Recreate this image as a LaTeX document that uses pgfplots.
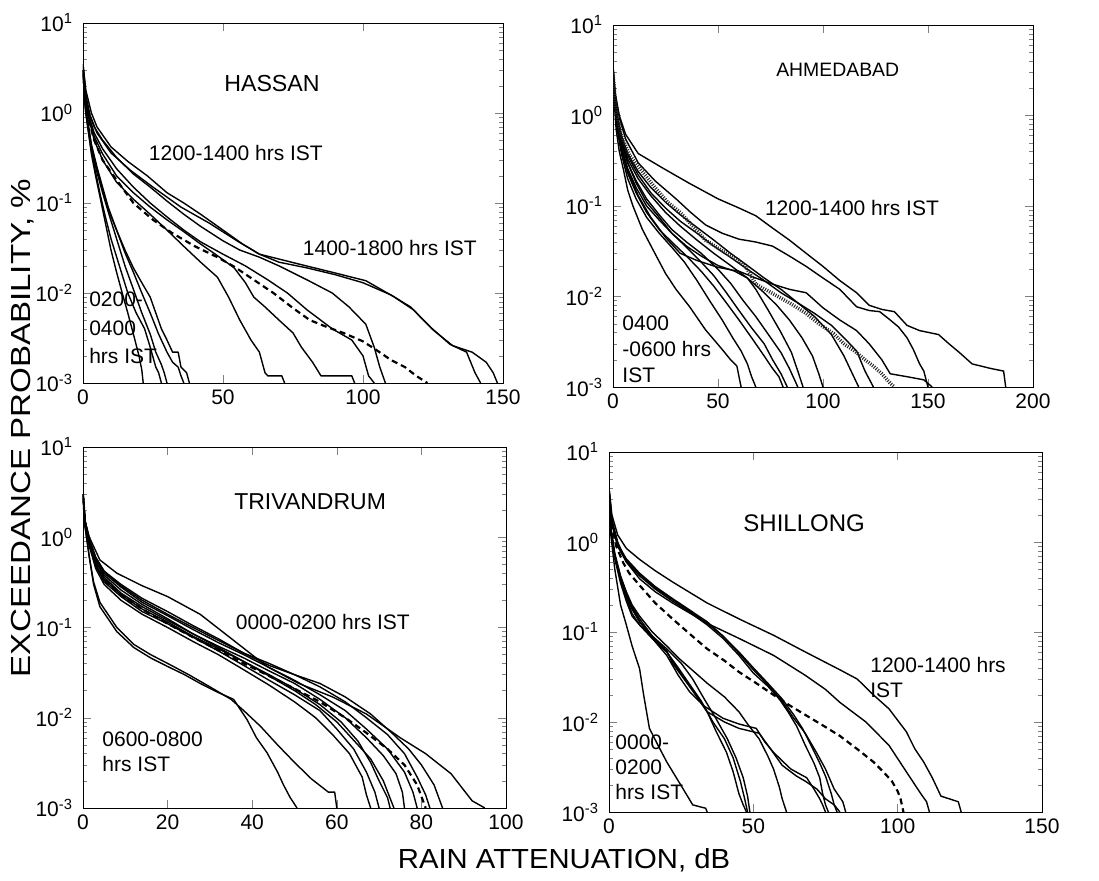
\documentclass[border=0pt]{standalone}
\usepackage{fontspec}
\setmainfont{Liberation Sans}
\usepackage{graphicx}
\usepackage{pgfplots}
\pgfplotsset{compat=1.18}

\tikzset{
  crv/.style={black, line width=0.7pt, line join=round},
  dshd/.style={black, line width=1.1pt, dash pattern=on 3pt off 2pt},
  dotd/.style={black!85, line width=1.8pt, dash pattern=on 0.5pt off 0.7pt},
  ann/.style={font=\fontsize{10.5}{12.5}\selectfont, inner sep=0pt},
}

\begin{document}
\begin{tikzpicture}
\useasboundingbox (0,0) rectangle (549.5pt,-440.5pt);

% ---------------- HASSAN
\begin{semilogyaxis}[scale only axis, ymin=0.001, ymax=10,
  ytick={0.001,0.01,0.1,1,10},
  yticklabels={10\textsuperscript{-3},10\textsuperscript{-2},10\textsuperscript{-1},10\textsuperscript{0},10\textsuperscript{1}},
  minor ytick={0.002,0.003,0.004,0.005,0.006,0.007,0.008,0.009,0.02,0.03,0.04,0.05,0.06,0.07,0.08,0.09,0.2,0.3,0.4,0.5,0.6,0.7,0.8,0.9,2,3,4,5,6,7,8,9},
  tick align=inside, major tick length=4pt, minor tick length=2pt,
  xticklabel style={font=\fontsize{10.5}{12}\selectfont, /pgf/number format/assume math mode=true},
  yticklabel style={font=\fontsize{10.5}{12}\selectfont, xshift=-1.5pt},
  at={(41.5pt,-11.5pt)}, anchor=north west,
  width=210pt, height=180pt, xmin=0, xmax=150, xtick={0,50,100,150}]
\addplot[crv] coordinates {(0,3) (0.5,1.5) (1,1) (2,0.6) (3,0.35) (4.5,0.2) (6,0.12) (8,0.06) (10,0.03) (12,0.017) (14,0.01) (16,0.006) (18,0.0035) (20,0.002) (21,0.0014) (21.5,0.001)};
\addplot[crv] coordinates {(0,3) (0.5,1.5) (1,1) (2,0.6) (3,0.38) (4.5,0.22) (6,0.13) (8,0.07) (10,0.04) (13,0.02) (16,0.01) (19,0.006) (22,0.004) (24,0.0025) (26,0.0015) (27,0.0013) (28,0.001)};
\addplot[crv] coordinates {(0,3) (1,1.1) (2,0.65) (3,0.4) (5,0.22) (7,0.13) (9,0.08) (12,0.04) (15,0.02) (18,0.011) (21,0.006) (24,0.0035) (26,0.0022) (28,0.0016) (29,0.0013) (30,0.001)};
\addplot[crv] coordinates {(0,3) (1,1.1) (2,0.7) (3,0.45) (5,0.25) (7,0.15) (9,0.09) (12,0.05) (15,0.028) (18,0.017) (21,0.01) (24,0.006) (27,0.0035) (30,0.0022) (32,0.0017) (34,0.0015) (35,0.0012) (36,0.001)};
\addplot[crv] coordinates {(0,3) (1,1.1) (2,0.7) (3,0.42) (5,0.24) (7,0.14) (9,0.085) (12,0.05) (15,0.03) (18,0.019) (21,0.013) (24,0.009) (26,0.006) (28,0.004) (30,0.003) (32,0.0022) (34,0.0022) (35,0.0015) (37,0.0013) (38,0.001)};
\addplot[crv] coordinates {(0,3) (1,1.3) (2,0.9) (4,0.5) (7,0.3) (12,0.17) (18,0.11) (23,0.08) (30,0.05) (36,0.033) (42,0.022) (48,0.015) (52,0.009) (56,0.005) (60,0.003) (63,0.0022) (65,0.0013) (66,0.0012) (71,0.0012) (72,0.001)};
\addplot[crv] coordinates {(0,3) (1,1.3) (2,0.9) (4,0.55) (7,0.35) (12,0.2) (18,0.13) (24,0.09) (30,0.065) (36,0.048) (42,0.035) (48,0.026) (54,0.019) (58,0.013) (61,0.009) (65,0.007) (70,0.005) (75,0.0036) (78,0.0025) (82,0.0017) (85,0.0012) (96,0.0012) (97,0.001)};
\addplot[crv] coordinates {(0,3) (1,1.3) (2,0.95) (4,0.6) (7,0.4) (12,0.24) (18,0.15) (24,0.1) (30,0.07) (36,0.05) (42,0.037) (50,0.027) (58,0.02) (66,0.014) (73,0.01) (80,0.0065) (89,0.004) (96,0.003) (100,0.002) (102,0.0012) (104,0.001)};
\addplot[crv] coordinates {(0,3) (1,1.4) (2,1) (4,0.7) (7,0.5) (12,0.32) (18,0.21) (24,0.15) (30,0.105) (36,0.075) (42,0.055) (50,0.038) (56,0.03) (63,0.025) (70,0.02) (80,0.014) (89,0.01) (95,0.007) (101,0.0045) (104,0.0025) (106,0.0015) (108,0.001)};
\addplot[crv] coordinates {(0,3.5) (1,1.8) (3,1) (5,0.7) (10,0.42) (16,0.29) (23,0.2) (30,0.13) (36,0.1) (42,0.075) (50,0.05) (57,0.035) (63,0.027) (77,0.021) (89,0.017) (101,0.0137) (111,0.0091) (118,0.0065) (125,0.0039) (132,0.0026) (139,0.0022) (144,0.0017) (146.5,0.0013) (148,0.001)};
\addplot[crv] coordinates {(0,3.5) (1,1.6) (2.5,0.95) (5,0.6) (10,0.36) (17,0.23) (25,0.15) (35,0.09) (45,0.06) (55,0.038) (63,0.027) (70,0.022) (80,0.019) (90,0.016) (100,0.013) (110,0.0095) (117,0.007) (124,0.0042) (131,0.0027) (137,0.0022) (140,0.0013) (142,0.001)};
\addplot[dshd] coordinates {(0,3) (1,1.3) (2,0.85) (4,0.5) (7,0.3) (12,0.18) (18,0.1) (25,0.065) (32,0.046) (40,0.033) (48,0.025) (54,0.0196) (61,0.014) (68,0.01) (75,0.0068) (81,0.005) (87,0.0042) (93,0.0036) (100,0.0029) (105,0.0023) (110,0.0018) (115,0.0015) (119,0.0012) (123,0.001)};
\node[ann, font=\fontsize{11.6}{14}\selectfont] at (axis cs:67.5,2.15) {HASSAN};
\node[ann] at (axis cs:54.6,0.36) {1200-1400 hrs IST};
\node[ann] at (axis cs:109.6,0.0316) {1400-1800 hrs IST};
\node[ann, anchor=west, align=left, font=\fontsize{10.5}{14.2}\selectfont] at (axis cs:2.1,0.00408) {0200-\\0400\\hrs IST};
\end{semilogyaxis}

% ---------------- AHMEDABAD
\begin{semilogyaxis}[scale only axis, ymin=0.001, ymax=10,
  ytick={0.001,0.01,0.1,1,10},
  yticklabels={10\textsuperscript{-3},10\textsuperscript{-2},10\textsuperscript{-1},10\textsuperscript{0},10\textsuperscript{1}},
  minor ytick={0.002,0.003,0.004,0.005,0.006,0.007,0.008,0.009,0.02,0.03,0.04,0.05,0.06,0.07,0.08,0.09,0.2,0.3,0.4,0.5,0.6,0.7,0.8,0.9,2,3,4,5,6,7,8,9},
  tick align=inside, major tick length=4pt, minor tick length=2pt,
  xticklabel style={font=\fontsize{10.5}{12}\selectfont, /pgf/number format/assume math mode=true},
  yticklabel style={font=\fontsize{10.5}{12}\selectfont, xshift=-1.5pt},
  at={(306.5pt,-12.5pt)}, anchor=north west,
  width=210pt, height=181pt, xmin=0, xmax=200, xtick={0,50,100,150,200}]
\addplot[crv] coordinates {(0,3.5) (1,1.8) (3,1) (6,0.62) (12,0.38) (24,0.26) (36,0.18) (50,0.12) (60,0.095) (68,0.078) (76,0.057) (84,0.042) (92,0.03) (100,0.0215) (108,0.015) (116,0.011) (122,0.008) (128,0.0072) (134,0.0068) (140,0.0048) (146,0.0042) (155,0.0038) (160,0.003) (165,0.0024) (171,0.0018) (180,0.0016) (186,0.0015) (187,0.001)};
\addplot[crv] coordinates {(0,3.5) (1,1.7) (3,0.95) (6,0.55) (12,0.3) (20,0.19) (30,0.12) (37,0.085) (44,0.062) (52,0.05) (60,0.043) (68,0.04) (76,0.036) (84,0.028) (92,0.0215) (100,0.016) (108,0.012) (116,0.0077) (122,0.007) (127,0.0068) (132,0.0055) (136,0.0046) (140,0.0035) (143,0.0026) (146,0.0018) (148,0.0015) (150,0.001)};
\addplot[crv] coordinates {(0,3) (1,1.3) (2,0.8) (4,0.45) (7,0.25) (12,0.13) (18,0.075) (25,0.045) (32,0.03) (40,0.025) (50,0.021) (60,0.019) (68,0.016) (76,0.0137) (84,0.012) (92,0.011) (100,0.0075) (108,0.0055) (116,0.0042) (122,0.003) (128,0.002) (132,0.0014) (140,0.0013) (148,0.0012) (152,0.001)};
\addplot[crv] coordinates {(0,3) (0.8,1.2) (1.5,0.7) (3,0.4) (5,0.25) (7,0.15) (9.5,0.1) (14,0.055) (19,0.033) (25,0.018) (30,0.012) (36.5,0.0077) (44,0.0043) (52,0.0026) (56,0.002) (59,0.0017) (60,0.0013) (61,0.001)};
\addplot[crv] coordinates {(0,3) (1,1.2) (2,0.7) (4,0.38) (7,0.2) (11,0.12) (16,0.075) (22,0.05) (28,0.035) (34,0.024) (40,0.015) (46,0.009) (52,0.0055) (57,0.0035) (61,0.0025) (64,0.0018) (66,0.0013) (68,0.001)};
\addplot[crv] coordinates {(0,3) (1,1.2) (2,0.75) (4,0.42) (7,0.23) (11,0.14) (16,0.085) (22,0.055) (28,0.04) (35,0.028) (42,0.019) (48,0.013) (54,0.0085) (60,0.0055) (66,0.0035) (72,0.0022) (76,0.0016) (79,0.0013) (81,0.001)};
\addplot[crv] coordinates {(0,3) (1,1.3) (2,0.8) (4,0.45) (7,0.26) (11,0.16) (16,0.1) (22,0.07) (28,0.05) (35,0.035) (42,0.024) (48,0.017) (54,0.011) (60,0.007) (66,0.0045) (72,0.003) (76,0.002) (80,0.0014) (83,0.001)};
\addplot[crv] coordinates {(0,3) (1,1.3) (2,0.85) (4,0.5) (7,0.3) (11,0.19) (16,0.12) (22,0.08) (28,0.055) (35,0.04) (42,0.03) (50,0.02) (56,0.014) (62,0.009) (68,0.006) (74,0.0038) (80,0.0024) (84,0.0016) (88,0.001)};
\addplot[crv] coordinates {(0,3) (1,1.3) (2,0.85) (4,0.5) (7,0.3) (11,0.18) (16,0.11) (22,0.075) (28,0.05) (35,0.036) (42,0.028) (50,0.022) (58,0.019) (64,0.016) (68,0.012) (74,0.007) (80,0.004) (85,0.0024) (88,0.0015) (90.5,0.001)};
\addplot[crv] coordinates {(0,3) (1,1.4) (2,0.9) (4,0.55) (7,0.33) (12,0.2) (18,0.13) (25,0.085) (32,0.06) (40,0.042) (48,0.03) (56,0.022) (64,0.016) (72,0.011) (78,0.008) (84,0.0055) (90,0.0035) (95,0.0022) (98,0.0014) (100,0.001)};
\addplot[crv] coordinates {(0,3.2) (1,1.5) (2,1) (4,0.6) (7,0.38) (12,0.24) (18,0.16) (25,0.11) (32,0.08) (40,0.058) (48,0.042) (56,0.03) (64,0.022) (72,0.016) (80,0.012) (88,0.0085) (96,0.006) (104,0.0038) (110,0.0022) (114,0.0014) (117,0.001)};
\addplot[crv] coordinates {(0,3.2) (1,1.5) (2,1) (4,0.6) (7,0.36) (12,0.22) (18,0.14) (25,0.095) (32,0.068) (40,0.05) (48,0.036) (56,0.027) (64,0.02) (72,0.015) (80,0.011) (88,0.0085) (96,0.0065) (104,0.0048) (110,0.0035) (116,0.0025) (120,0.0015) (124,0.001)};
\addplot[dotd] coordinates {(0,3) (1,1.5) (2,1) (4,0.6) (8,0.36) (14,0.24) (20,0.16) (26,0.11) (32,0.085) (38,0.06) (44,0.042) (52,0.032) (60,0.025) (64,0.02) (68,0.0137) (76,0.0108) (84,0.0085) (92,0.0065) (98,0.005) (105,0.0039) (110,0.003) (116,0.0024) (120,0.002) (124,0.0017) (128,0.0014) (132,0.0011) (134,0.001)};
\node[ann, font=\fontsize{9.7}{12}\selectfont] at (axis cs:107,3.16) {AHMEDABAD};
\node[ann] at (axis cs:113.8,0.095) {1200-1400 hrs IST};
\node[ann, anchor=west, align=left, font=\fontsize{10.5}{13}\selectfont] at (axis cs:4.3,0.00264) {0400\\-0600 hrs\\IST};
\end{semilogyaxis}

% ---------------- TRIVANDRUM
\begin{semilogyaxis}[scale only axis, ymin=0.001, ymax=10,
  ytick={0.001,0.01,0.1,1,10},
  yticklabels={10\textsuperscript{-3},10\textsuperscript{-2},10\textsuperscript{-1},10\textsuperscript{0},10\textsuperscript{1}},
  minor ytick={0.002,0.003,0.004,0.005,0.006,0.007,0.008,0.009,0.02,0.03,0.04,0.05,0.06,0.07,0.08,0.09,0.2,0.3,0.4,0.5,0.6,0.7,0.8,0.9,2,3,4,5,6,7,8,9},
  tick align=inside, major tick length=4pt, minor tick length=2pt,
  xticklabel style={font=\fontsize{10.5}{12}\selectfont, /pgf/number format/assume math mode=true},
  yticklabel style={font=\fontsize{10.5}{12}\selectfont, xshift=-1.5pt},
  at={(41.5pt,-223.5pt)}, anchor=north west,
  width=211.5pt, height=180.5pt, xmin=0, xmax=100, xtick={0,20,40,60,80,100}]
\addplot[crv] coordinates {(0,3) (0.5,1.5) (1.5,1) (4,0.56) (8,0.4) (14,0.29) (20,0.22) (27.7,0.14) (35.6,0.072) (43.5,0.037) (51,0.024) (59,0.017) (67,0.011) (75,0.006) (81,0.004) (87,0.0024) (92,0.0012) (95,0.001)};
\addplot[crv] coordinates {(0,3) (0.5,1.3) (1.5,0.6) (2.5,0.3) (4,0.17) (8,0.09) (12,0.06) (16,0.046) (20,0.037) (24,0.03) (27.7,0.024) (32,0.019) (35.6,0.016) (38.8,0.0095) (41,0.006) (43.5,0.0041) (46,0.0025) (47.4,0.0018) (49,0.0013) (50.6,0.001)};
\addplot[crv] coordinates {(0,3) (0.5,1.3) (1.5,0.6) (2.5,0.32) (4,0.19) (8,0.1) (12,0.065) (16,0.05) (20,0.04) (25,0.03) (30,0.022) (35,0.016) (38,0.012) (42,0.008) (46,0.005) (50,0.0032) (54,0.0021) (58,0.0015) (59.5,0.0015) (60,0.001)};
\addplot[crv] coordinates {(0,3) (0.5,1.4) (1.5,0.8) (3,0.45) (5,0.3) (9,0.2) (14,0.14) (20,0.1) (26,0.07) (32,0.05) (38,0.034) (44,0.023) (50,0.015) (55,0.01) (59,0.0065) (63,0.004) (66,0.0022) (67,0.0014) (68,0.001)};
\addplot[crv] coordinates {(0,3) (0.5,1.4) (1.5,0.8) (3,0.48) (5,0.32) (9,0.22) (14,0.15) (20,0.11) (26,0.078) (32,0.055) (38,0.038) (44,0.026) (50,0.018) (56,0.012) (60,0.0075) (64,0.0045) (67,0.0025) (69,0.0015) (70,0.001)};
\addplot[crv] coordinates {(0,3) (0.5,1.4) (1.5,0.85) (3,0.5) (5,0.34) (9,0.23) (14,0.16) (20,0.115) (26,0.08) (32,0.058) (38,0.042) (44,0.03) (50,0.021) (56,0.014) (61,0.009) (65,0.0055) (68,0.0032) (70,0.002) (72,0.0013) (72.6,0.001)};
\addplot[crv] coordinates {(0,3) (0.5,1.5) (1.5,0.9) (3,0.55) (5,0.38) (9,0.26) (14,0.18) (20,0.125) (26,0.085) (32,0.06) (38,0.042) (44,0.029) (50,0.02) (55,0.014) (60,0.009) (65,0.005) (68,0.0035) (71,0.002) (73.5,0.001)};
\addplot[crv] coordinates {(0,3) (0.5,1.5) (1.5,0.9) (3,0.55) (5,0.36) (9,0.24) (14,0.17) (20,0.12) (26,0.085) (32,0.062) (38,0.046) (44,0.033) (50,0.024) (56,0.016) (62,0.01) (67,0.006) (71,0.0038) (74,0.0024) (75.5,0.0015) (76,0.001)};
\addplot[crv] coordinates {(0,3) (0.5,1.5) (1.5,0.9) (3,0.58) (5,0.4) (9,0.28) (14,0.19) (20,0.135) (26,0.095) (32,0.068) (38,0.05) (44,0.036) (50,0.026) (56,0.018) (62,0.012) (67,0.0075) (72,0.0045) (76,0.0025) (78,0.0015) (79,0.001)};
\addplot[crv] coordinates {(0,3) (0.5,1.5) (1.5,0.95) (3,0.6) (5,0.42) (9,0.29) (14,0.2) (20,0.14) (26,0.1) (32,0.072) (38,0.052) (44,0.04) (50,0.03) (56,0.022) (62,0.015) (67,0.01) (72,0.0065) (76,0.004) (79,0.0022) (81,0.0014) (82,0.001)};
\addplot[crv] coordinates {(0,3) (0.5,1.5) (1.5,0.95) (3,0.6) (5,0.42) (9,0.3) (14,0.21) (20,0.15) (26,0.105) (32,0.075) (38,0.052) (44,0.038) (50,0.03) (56,0.024) (62,0.017) (68,0.011) (73,0.0068) (77,0.0045) (80,0.003) (83,0.0018) (85,0.001)};
\addplot[dshd] coordinates {(0,3) (0.5,1.4) (1.5,0.85) (3,0.5) (5,0.34) (9,0.23) (14,0.16) (20,0.11) (26,0.078) (32,0.056) (38,0.04) (44,0.029) (50,0.021) (56,0.015) (62,0.01) (67,0.0068) (72,0.0045) (76,0.003) (79,0.0018) (81,0.001)};
\node[ann, font=\fontsize{11.5}{14}\selectfont] at (axis cs:53.7,2.46) {TRIVANDRUM};
\node[ann] at (axis cs:56.7,0.115) {0000-0200 hrs IST};
\node[ann, anchor=west, align=left, font=\fontsize{10.5}{12.5}\selectfont] at (axis cs:4.5,0.00417) {0600-0800\\hrs IST};
\end{semilogyaxis}

% ---------------- SHILLONG
\begin{semilogyaxis}[scale only axis, ymin=0.001, ymax=10,
  ytick={0.001,0.01,0.1,1,10},
  yticklabels={10\textsuperscript{-3},10\textsuperscript{-2},10\textsuperscript{-1},10\textsuperscript{0},10\textsuperscript{1}},
  minor ytick={0.002,0.003,0.004,0.005,0.006,0.007,0.008,0.009,0.02,0.03,0.04,0.05,0.06,0.07,0.08,0.09,0.2,0.3,0.4,0.5,0.6,0.7,0.8,0.9,2,3,4,5,6,7,8,9},
  tick align=inside, major tick length=4pt, minor tick length=2pt,
  xticklabel style={font=\fontsize{10.5}{12}\selectfont, /pgf/number format/assume math mode=true},
  yticklabel style={font=\fontsize{10.5}{12}\selectfont, xshift=-1.5pt},
  at={(304.5pt,-226pt)}, anchor=north west,
  width=216.5pt, height=180pt, xmin=0, xmax=150, xtick={0,50,100,150}]
\addplot[crv] coordinates {(0,4) (1,2) (3,1.2) (6,0.85) (10.6,0.64) (16,0.48) (22,0.36) (34,0.21) (45,0.14) (57,0.092) (68,0.06) (80,0.038) (86,0.03) (91.6,0.02) (97,0.014) (103,0.0078) (106,0.005) (109,0.0036) (112,0.0024) (115,0.0015) (121,0.0013) (122,0.001)};
\addplot[crv] coordinates {(0,4) (1,1.8) (3,1) (6,0.6) (10.6,0.39) (16,0.28) (22,0.21) (34,0.125) (45,0.085) (57,0.055) (68,0.033) (75,0.023) (80,0.0165) (89,0.01) (97,0.0055) (103,0.0028) (108,0.0016) (110,0.0013) (111,0.001)};
\addplot[crv] coordinates {(0,3.5) (1,1.6) (3,0.9) (6,0.6) (10.6,0.42) (16,0.3) (22,0.22) (28,0.165) (34,0.12) (39.5,0.085) (45,0.055) (50,0.035) (55,0.025) (59,0.018) (62,0.013) (65,0.009) (68,0.0055) (71,0.0035) (73,0.0024) (74,0.0016) (75,0.0012) (76,0.001)};
\addplot[crv] coordinates {(0,3.5) (1,1.6) (3,0.9) (6,0.62) (10.6,0.44) (16,0.31) (22,0.23) (28,0.17) (34,0.125) (39.5,0.09) (45,0.06) (50,0.04) (55,0.027) (60,0.018) (64,0.012) (67,0.0085) (70,0.0055) (73,0.0035) (75,0.0025) (77,0.0016) (78,0.0012) (79,0.001)};
\addplot[crv] coordinates {(0,3.5) (1,1.7) (3,0.95) (6,0.65) (10.6,0.45) (16,0.32) (22,0.235) (28,0.175) (34,0.13) (39.5,0.09) (45,0.058) (50,0.038) (55,0.026) (60,0.017) (64,0.011) (68,0.0075) (72,0.0045) (75,0.003) (78,0.0018) (81,0.0013) (82,0.001)};
\addplot[crv] coordinates {(0,3) (0.5,1.5) (2,0.65) (4,0.35) (6,0.22) (8,0.15) (10.6,0.12) (15,0.085) (20,0.062) (22,0.045) (26,0.03) (30,0.02) (34,0.013) (37,0.008) (40.7,0.0046) (43,0.0028) (45,0.0016) (46.5,0.0012) (47.6,0.001)};
\addplot[crv] coordinates {(0,3) (0.5,1.5) (2,0.7) (4,0.38) (6,0.24) (8,0.16) (10.6,0.12) (15,0.085) (20,0.06) (24,0.04) (28,0.026) (32,0.017) (36,0.01) (40,0.0065) (43,0.004) (45.5,0.0022) (47,0.0014) (48,0.001)};
\addplot[crv] coordinates {(0,3) (0.5,1.5) (2,0.7) (4,0.4) (6,0.26) (8,0.18) (10.6,0.13) (15,0.09) (20,0.065) (25,0.045) (29,0.03) (33,0.018) (37,0.011) (41,0.0065) (44,0.004) (46.5,0.0024) (48,0.0015) (48.8,0.001)};
\addplot[crv] coordinates {(0,3) (0.5,1.5) (2,0.75) (4,0.42) (6,0.28) (8,0.2) (10.6,0.15) (15,0.1) (20,0.07) (24.5,0.05) (30,0.035) (34,0.027) (40,0.019) (45,0.013) (48,0.0095) (52,0.0065) (55,0.0042) (57,0.003) (59,0.0019) (60,0.0014) (61.5,0.001)};
\addplot[crv] coordinates {(0,3) (0.5,1.5) (2,0.7) (4,0.4) (6,0.26) (8,0.18) (10.6,0.13) (15,0.085) (20,0.055) (24,0.033) (28,0.0215) (33,0.015) (39.5,0.011) (45,0.0095) (51,0.0085) (54,0.006) (57,0.0046) (60,0.0037) (63,0.003) (68.5,0.0024) (71,0.0018) (73,0.0014) (74,0.0012) (75,0.001)};
\addplot[crv] coordinates {(0,3) (0.5,1.5) (2,0.72) (4,0.41) (6,0.27) (8,0.19) (10.6,0.14) (15,0.09) (20,0.06) (24,0.038) (28,0.025) (34,0.013) (40,0.01) (45,0.0085) (52,0.0075) (56,0.005) (60,0.0033) (65,0.0025) (68,0.0022) (72,0.0018) (75,0.0014) (78,0.0012) (80,0.001)};
\addplot[crv] coordinates {(0,3) (0.5,1.3) (2,0.5) (4,0.2) (6,0.12) (8,0.07) (10.6,0.039) (12,0.02) (14,0.0085) (17,0.0055) (20,0.0036) (23,0.0025) (25.7,0.0018) (29,0.0012) (33.5,0.0011) (34,0.001)};
\addplot[dshd] coordinates {(0,3.5) (1,1.5) (2.5,0.9) (4.9,0.59) (7,0.45) (10.6,0.33) (16,0.21) (22,0.14) (28,0.095) (34,0.065) (40,0.048) (45,0.036) (51,0.027) (57,0.02) (63,0.015) (68,0.012) (74,0.0092) (80,0.007) (86,0.005) (91.6,0.0036) (95,0.0028) (98,0.0022) (100,0.0017) (101,0.0014) (102,0.001)};
\node[ann, font=\fontsize{12}{14}\selectfont] at (axis cs:67.6,1.63) {SHILLONG};
\node[ann, anchor=west, align=left, font=\fontsize{10.5}{12.5}\selectfont] at (axis cs:90.4,0.0316) {1200-1400 hrs\\IST};
\node[ann, anchor=west, align=left, font=\fontsize{10.5}{12.5}\selectfont] at (axis cs:2.1,0.00316) {0000-\\0200\\hrs IST};
\end{semilogyaxis}

\node[rotate=90, font=\fontsize{13.8}{16}\selectfont, inner sep=0pt] at (11.5pt,-214pt) {\scalebox{1.2}[1]{EXCEEDANCE PROBABILITY, \%}};
\node[font=\fontsize{13.8}{16}\selectfont, inner sep=0pt] at (282pt,-430pt) {\scalebox{1.06}[1]{RAIN ATTENUATION, dB}};
\end{tikzpicture}
\end{document}
